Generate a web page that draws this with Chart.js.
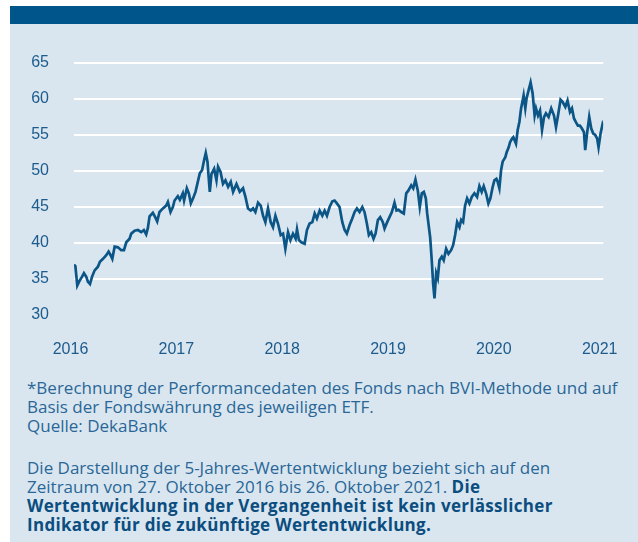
<!DOCTYPE html>
<html>
<head>
<meta charset="utf-8">
<script src="https://cdn.jsdelivr.net/npm/chart.js@4"></script>
<style>
  html, body { margin: 0; padding: 0; background: #fff; }
  #page { position: relative; width: 638px; height: 542px; overflow: hidden; }
  #panel { position: absolute; left: 10px; top: 7px; width: 628px; height: 535px; background: #d9e6ef; }
  #bar { position: absolute; left: 10px; top: 6px; width: 628px; height: 18px; background: #00568b; }
  #chart { position: absolute; left: 0; top: 0; }
  .note { position: absolute; left: 27px; font-family: "Open Sans", Roboto, sans-serif; font-size: 17px; line-height: 19px; color: #2a6697; white-space: nowrap; }
  .note b { color: #0b4d7f; font-weight: 700; letter-spacing: 0.3px; }
</style>
</head>
<body>
<div id="page">
  <div id="panel"></div>
  <div id="bar"></div>
  <canvas id="chart" width="638" height="360"></canvas>
  <div class="note" style="top:378px">*Berechnung der Performancedaten des Fonds nach BVI-Methode und auf<br>Basis der Fondswährung des jeweiligen ETF.<br>Quelle: DekaBank</div>
  <div class="note" style="top:458px">Die Darstellung der 5-Jahres-Wertentwicklung bezieht sich auf den<br>Zeitraum von 27. Oktober 2016 bis 26. Oktober 2021. <b>Die</b><br><b>Wertentwicklung in der Vergangenheit ist kein verlässlicher</b><br><b>Indikator für die zukünftige Wertentwicklung.</b></div>
</div>
<script>
// x = years since the first tick label (2016)
const yearOffsets = [
  0.000, 0.013, 0.031, 0.054, 0.075, 0.094, 0.116, 0.132, 0.151, 0.170, 0.195, 0.226, 0.245, 0.274, 0.305,
  0.327, 0.346, 0.362, 0.384, 0.415, 0.446, 0.472, 0.494, 0.525, 0.541, 0.573, 0.604, 0.635, 0.660, 0.682,
  0.698, 0.714, 0.745, 0.767, 0.786, 0.808, 0.840, 0.871, 0.887, 0.912, 0.934, 0.950, 0.981, 1.000, 1.028,
  1.040, 1.066, 1.085, 1.104, 1.125, 1.148, 1.173, 1.189, 1.210, 1.229, 1.245, 1.261, 1.283, 1.299, 1.324,
  1.346, 1.361, 1.384, 1.408, 1.431, 1.456, 1.481, 1.503, 1.535, 1.566, 1.597, 1.620, 1.644, 1.670, 1.692,
  1.714, 1.739, 1.764, 1.786, 1.808, 1.833, 1.858, 1.880, 1.903, 1.927, 1.953, 1.975, 1.997,
  2.022, 2.045, 2.069, 2.094, 2.107, 2.125, 2.148, 2.179, 2.201, 2.226, 2.252, 2.274, 2.295, 2.321, 2.346,
  2.368, 2.390, 2.415, 2.441, 2.462, 2.484, 2.509, 2.535, 2.557, 2.578, 2.604, 2.629, 2.651, 2.673, 2.698,
  2.724, 2.745, 2.767, 2.786, 2.808, 2.830, 2.849, 2.871, 2.893, 2.918, 2.934,
  2.959, 2.981, 3.003, 3.028, 3.047, 3.066, 3.092, 3.116, 3.139, 3.160, 3.186, 3.205, 3.226, 3.248, 3.267,
  3.286, 3.305, 3.324, 3.337, 3.349, 3.365, 3.380, 3.393, 3.406, 3.422, 3.437, 3.453, 3.475, 3.493, 3.516,
  3.538, 3.563, 3.582, 3.601, 3.620, 3.642, 3.658, 3.676, 3.695, 3.714, 3.736, 3.758, 3.783, 3.808, 3.830,
  3.852, 3.871, 3.893, 3.915, 3.934, 3.956, 3.972, 3.991,
  4.003, 4.019, 4.035, 4.050, 4.075, 4.088, 4.107, 4.120, 4.139, 4.151, 4.176, 4.192, 4.208, 4.224, 4.239,
  4.248, 4.264, 4.276, 4.295, 4.314, 4.333, 4.352, 4.365, 4.384, 4.403, 4.422, 4.441, 4.459, 4.484, 4.509,
  4.535, 4.554, 4.573, 4.597, 4.616, 4.642, 4.663, 4.686, 4.705, 4.724, 4.742, 4.761, 4.780, 4.799, 4.818,
  4.830, 4.849, 4.868, 4.887, 4.906, 4.925, 4.943, 4.956, 4.975, 4.994, 5.000
];

const fundValues = [
  37.0, 36.8, 34.1, 34.8, 35.3, 35.8, 35.3, 34.6, 34.3, 35.3, 36.2, 36.7, 37.4, 37.8, 38.3,
  38.8, 38.3, 37.8, 39.5, 39.4, 39.0, 39.0, 40.1, 40.6, 41.3, 41.7, 41.8, 41.5, 41.8, 41.2,
  42.1, 43.7, 44.2, 43.6, 43.0, 44.3, 44.8, 45.2, 45.7, 44.3, 45.0, 45.9, 46.5, 46.0, 46.9,
  45.9, 47.6, 46.9, 45.5, 46.2, 47.1, 48.7, 49.7, 50.1, 51.5, 52.5, 51.3, 47.1, 49.6, 50.3,
  48.7, 50.6, 49.9, 48.2, 48.7, 47.8, 48.5, 47.1, 48.2, 47.1, 47.6, 46.4, 44.8, 44.5, 44.8,
  44.3, 45.6, 45.2, 43.8, 42.9, 44.8, 42.9, 42.2, 43.8, 42.7, 41.1, 41.3, 39.2,
  41.5, 40.4, 41.3, 40.6, 41.9, 40.4, 40.1, 39.9, 41.8, 42.7, 42.9, 44.1, 43.4, 44.5, 43.8,
  44.5, 43.8, 45.0, 45.8, 45.9, 45.5, 45.0, 42.9, 41.8, 41.3, 42.5, 43.4, 44.3, 44.8, 44.3,
  45.0, 44.3, 42.7, 41.1, 41.5, 40.6, 41.3, 43.2, 43.6, 42.9, 42.0,
  42.9, 43.6, 44.3, 45.6, 44.5, 44.6, 44.3, 44.1, 46.9, 47.3, 48.0, 47.6, 48.8, 47.3, 45.0,
  46.9, 47.1, 46.2, 44.1, 42.7, 40.8, 37.6, 34.4, 32.3, 35.8, 35.1, 37.6, 38.1, 37.6, 39.2,
  38.5, 39.0, 39.7, 41.1, 42.9, 42.2, 43.2, 42.9, 45.2, 46.2, 45.5, 46.4, 46.9, 46.4, 47.9,
  47.1, 47.9, 46.9, 45.5, 46.2, 47.8, 48.7, 48.9,
  48.5, 47.6, 50.1, 51.3, 51.9, 52.6, 53.3, 54.0, 54.5, 54.7, 53.8, 55.7, 56.8, 58.7, 59.8,
  60.5, 58.7, 60.1, 61.2, 62.3, 60.8, 57.7, 58.7, 57.7, 58.4, 55.7, 57.5, 58.0, 57.5, 58.7,
  57.7, 56.1, 57.7, 59.9, 59.6, 58.9, 59.8, 58.2, 58.7, 57.3, 56.8, 56.3, 56.3, 55.9, 55.4,
  52.9, 55.4, 57.5, 55.9, 55.2, 55.0, 54.5, 53.3, 55.2, 56.5, 56.3
];

const xTickLabels = ['2016', '2017', '2018', '2019', '2020', '2021'];
const yTicks = [30, 35, 40, 45, 50, 55, 60, 65];

const textColor = '#1d5b8d';
const tickFont = { family: 'Liberation Sans, Arial, sans-serif', size: 16 };

const ctx = document.getElementById('chart').getContext('2d');
const chart = new Chart(ctx, {
  type: 'line',
  data: {
    datasets: [{
      data: yearOffsets.map((x, i) => ({ x: x, y: fundValues[i] })),
      borderColor: '#0b5587',
      borderWidth: 2.7,
      pointRadius: 0,
      tension: 0,
      fill: false
    }]
  },
  options: {
    responsive: false,
    animation: false,
    layout: { padding: { top: 63, right: 34, left: 0, bottom: 0 } },
    plugins: { legend: { display: false }, tooltip: { enabled: false } },
    scales: {
      x: {
        type: 'linear',
        min: 0,
        max: xTickLabels.length - 1,
        grid: { display: false },
        border: { display: false },
        afterBuildTicks: (scale) => {
          scale.ticks = xTickLabels.map((l, i) => ({ value: i }));
        },
        afterFit: (scale) => { scale.height = 45; },
        ticks: {
          color: textColor,
          font: tickFont,
          padding: 17,
          labelOffset: -3.5,
          maxRotation: 0,
          autoSkip: false,
          callback: (v) => xTickLabels[v]
        }
      },
      y: {
        min: yTicks[0],
        max: yTicks[yTicks.length - 1],
        border: { display: false },
        afterBuildTicks: (scale) => {
          scale.ticks = yTicks.map(v => ({ value: v }));
        },
        afterFit: (scale) => { scale.width = 74; },
        grid: {
          color: (c) => c.tick && c.tick.value === yTicks[0] ? 'rgba(0,0,0,0)' : '#ffffff',
          lineWidth: 2,
          drawTicks: false
        },
        ticks: {
          color: textColor,
          font: tickFont,
          padding: 25
        }
      }
    }
  }
});
</script>
</body>
</html>
